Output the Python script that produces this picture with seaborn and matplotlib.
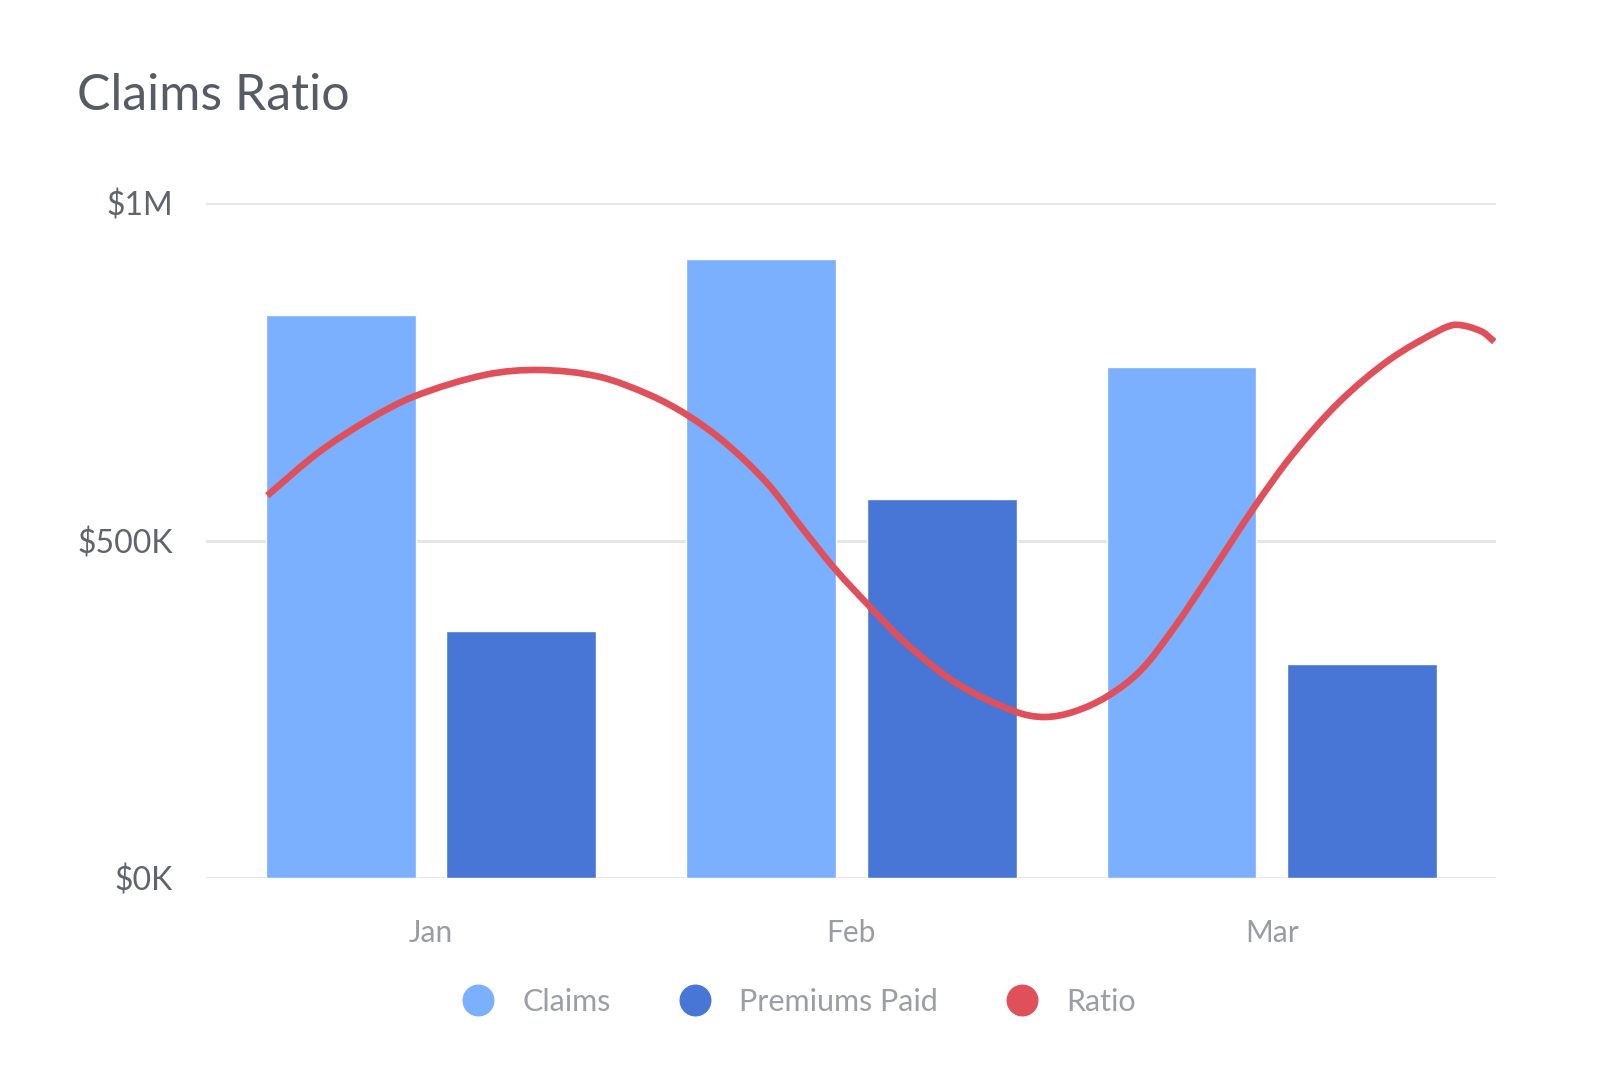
import numpy as np
import pandas as pd
import seaborn as sns
import matplotlib.pyplot as plt
from matplotlib.lines import Line2D
from matplotlib.path import Path
from matplotlib.patches import PathPatch

months = ["Jan", "Feb", "Mar"]
claims = [835000, 917000, 757000]
premiums = [366000, 562000, 318000]

# ratio curve: x is month index (0 = Jan), y in percent
ratio_month = [-0.39, -0.27, -0.15, -0.04, 0.13, 0.26, 0.40, 0.52, 0.61, 0.70,
               0.80, 0.88, 0.96, 1.04, 1.13, 1.25, 1.39, 1.46, 1.53, 1.61,
               1.69, 1.77, 1.85, 1.96, 2.05, 2.16, 2.28, 2.40, 2.44, 2.50, 2.53]
ratio_pct = [56.7, 63.0, 67.9, 71.4, 74.6, 75.3, 74.3, 71.6, 68.6, 64.5,
             58.5, 52.1, 45.9, 40.5, 34.8, 28.9, 24.7, 23.9, 24.7, 27.0,
             30.9, 37.3, 44.7, 55.1, 62.8, 70.5, 76.8, 81.2, 82.0, 81.0, 79.5]

y_ticks = [0, 500000, 1000000]
y_tick_labels = ["$0K", "$500K", "$1M"]

colors = {"Claims": "#7BAFFF", "Premiums Paid": "#4876D6", "Ratio": "#E0505A"}

sns.set_style("white")
plt.rcParams["font.family"] = ["Lato", "DejaVu Sans"]

df = pd.DataFrame({
    "month": months * 2,
    "value": claims + premiums,
    "series": ["Claims"] * 3 + ["Premiums Paid"] * 3,
})

fig = plt.figure(figsize=(16.01, 10.80), dpi=100)
ax = fig.add_axes([0.1289, 0.1867, 0.8058, 0.6251])

for t in y_ticks:
    ax.axhline(t, color="#E6E6E6", lw=2.2, zorder=0)

sns.barplot(
    data=df, x="month", y="value", hue="series",
    palette={k: colors[k] for k in ["Claims", "Premiums Paid"]},
    width=0.858, gap=0.168, saturation=1, legend=False, ax=ax, zorder=2,
)
ax.set_xlim(-0.535, 2.535)
ax.set_ylim(0, 1000000)
ax.set_yticks(y_ticks)
ax.set_yticklabels(y_tick_labels)
ax.set_xlabel("")
ax.set_ylabel("")
ax.tick_params(axis="y", length=0, pad=24, labelsize=23, labelcolor="#60646F")
ax.tick_params(axis="x", length=0, pad=29, labelsize=21.5, labelcolor="#9A9CA3")
sns.despine(ax=ax, left=True, bottom=True)

# ratio line on its own overlay axes, drawn as a smooth spline
ax_line = fig.add_axes(ax.get_position())
xs = np.array(ratio_month)
ys = np.array(ratio_pct)
verts = [(xs[0], ys[0])]
codes = [Path.MOVETO]
n = len(xs)
for i in range(n - 1):
    a = max(i - 1, 0)
    b = min(i + 2, n - 1)
    dx = xs[i + 1] - xs[i]
    m1 = (ys[i + 1] - ys[a]) / (xs[i + 1] - xs[a])
    m2 = (ys[b] - ys[i]) / (xs[b] - xs[i])
    verts += [(xs[i] + dx / 3, ys[i] + m1 * dx / 3),
              (xs[i + 1] - dx / 3, ys[i + 1] - m2 * dx / 3),
              (xs[i + 1], ys[i + 1])]
    codes += [Path.CURVE4] * 3
ax_line.add_patch(PathPatch(Path(verts, codes), facecolor="none",
                            edgecolor=colors["Ratio"], lw=4.8,
                            capstyle="butt", joinstyle="round"))
ax_line.set_xlim(-0.535, 2.535)
ax_line.set_ylim(0, 100)
ax_line.axis("off")
ax_line.patch.set_alpha(0)

fig.text(76.7 / 1601, 1 - 110 / 1080, "Claims Ratio", fontsize=36,
         color="#575B66", va="baseline", ha="left")

handles = [Line2D([], [], marker="o", linestyle="", markersize=22,
                  color=colors[k]) for k in colors]
fig.legend(handles, list(colors), loc="center", ncol=3,
           bbox_to_anchor=(0.4988, 0.0722), frameon=False, fontsize=22,
           labelcolor="#9C9EA5", handlelength=1.1, handletextpad=0.9,
           columnspacing=2.2)

fig.savefig("out.png", dpi=100)
